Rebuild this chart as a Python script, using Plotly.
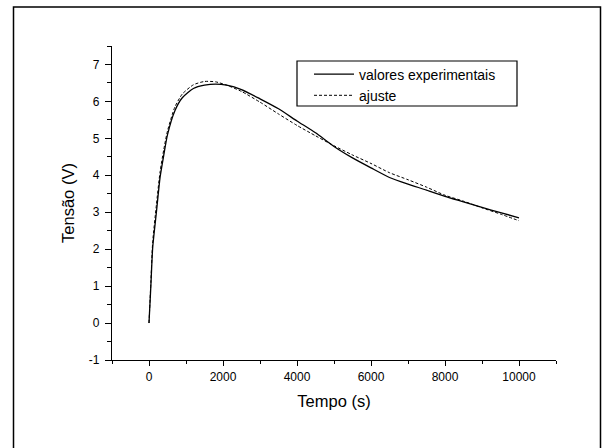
import plotly.graph_objects as go

# ---- data ----
t_exp = [0, 50, 100, 200, 300, 400, 500, 700, 900, 1200, 1500, 1800, 2100, 2500,
         3000, 3500, 4000, 4500, 5000, 5500, 6000, 6500, 7000, 7500, 8000, 8500,
         9000, 9500, 10000]
v_exp = [0.0, 1.0, 2.05, 3.0, 3.95, 4.55, 5.1, 5.75, 6.1, 6.35, 6.44, 6.47, 6.44, 6.32,
         6.07, 5.8, 5.47, 5.15, 4.78, 4.47, 4.2, 3.94, 3.76, 3.6, 3.43, 3.28,
         3.13, 2.99, 2.85]
t_fit = t_exp
v_fit = [0.0, 1.1, 2.2, 3.2, 4.1, 4.7, 5.2, 5.85, 6.2, 6.45, 6.54, 6.53, 6.44, 6.27,
         5.98, 5.66, 5.35, 5.07, 4.8, 4.55, 4.32, 4.07, 3.88, 3.68, 3.46, 3.3,
         3.12, 2.95, 2.77]
x_ticks = [0, 2000, 4000, 6000, 8000, 10000]
x_labels = ["0", "2000", "4000", "6000", "8000", "10000"]
y_ticks = [-1, 0, 1, 2, 3, 4, 5, 6, 7]
y_labels = ["-1", "0", "1", "2", "3", "4", "5", "6", "7"]
names = ["valores experimentais", "ajuste"]
x_title = "Tempo (s)"
y_title = "Tensão (V)"

FONT = "Arial, 'Liberation Sans', sans-serif"

fig = go.Figure()
fig.add_trace(go.Scatter(x=t_exp, y=v_exp, mode="lines", name=names[0],
                         line=dict(color="black", width=1.3, shape="spline", smoothing=0.6)))
fig.add_trace(go.Scatter(x=t_fit, y=v_fit, mode="lines", name=names[1],
                         line=dict(color="black", width=1, dash="3px,2px", shape="spline", smoothing=0.6)))

L, R, T, B = 112, 49, 46, 88
W, H = 605, 448
pw, ph = W - L - R, H - T - B

def px(x):
    return (x - L) / pw

def py(y):
    return (H - B - y) / ph

# outer frame and legend box
fig.add_shape(type="rect", xref="paper", yref="paper",
              x0=px(13.5), x1=px(600.5), y0=py(460), y1=py(7),
              line=dict(color="black", width=1.5), layer="below")
fig.add_shape(type="rect", xref="paper", yref="paper",
              x0=px(297), x1=px(517), y0=py(106), y1=py(61),
              line=dict(color="black", width=1.2), layer="above")

axis_common = dict(showline=True, linecolor="black", linewidth=1.3, showgrid=False,
                   zeroline=False, ticks="outside", tickcolor="black", tickwidth=1.2,
                   tickfont=dict(family=FONT, size=12, color="black"), mirror=False)

fig.update_xaxes(range=[-1000, 11000], tickmode="array", tickvals=x_ticks, ticktext=x_labels,
                 ticklen=5,
                 minor=dict(dtick=1000, tick0=-1000, ticklen=3, ticks="outside",
                            tickcolor="black", tickwidth=1.2, showgrid=False),
                 title=dict(text=x_title, font=dict(family=FONT, size=16.5, color="black"), standoff=12),
                 **axis_common)
fig.update_yaxes(range=[-1, 7.5], tickmode="array", tickvals=y_ticks, ticktext=y_labels,
                 ticklen=6, ticklabelstandoff=3,
                 minor=dict(dtick=0.5, tick0=-1, ticklen=3.5, ticks="outside",
                            tickcolor="black", tickwidth=1.2, showgrid=False),
                 title=dict(text=y_title, font=dict(family=FONT, size=16.5, color="black"), standoff=10),
                 **axis_common)

fig.update_layout(
    width=W, height=H,
    margin=dict(l=L, r=R, t=T, b=B, autoexpand=False),
    paper_bgcolor="white", plot_bgcolor="white",
    showlegend=True,
    legend=dict(x=px(309), y=py(58.5), xanchor="left", yanchor="top",
                bgcolor="rgba(0,0,0,0)", borderwidth=0,
                font=dict(family=FONT, size=14, color="black"),
                itemwidth=40, tracegroupgap=0),
)

fig.write_html("out.html", config={"displayModeBar": False},
               post_script="document.body.style.margin='0';")
